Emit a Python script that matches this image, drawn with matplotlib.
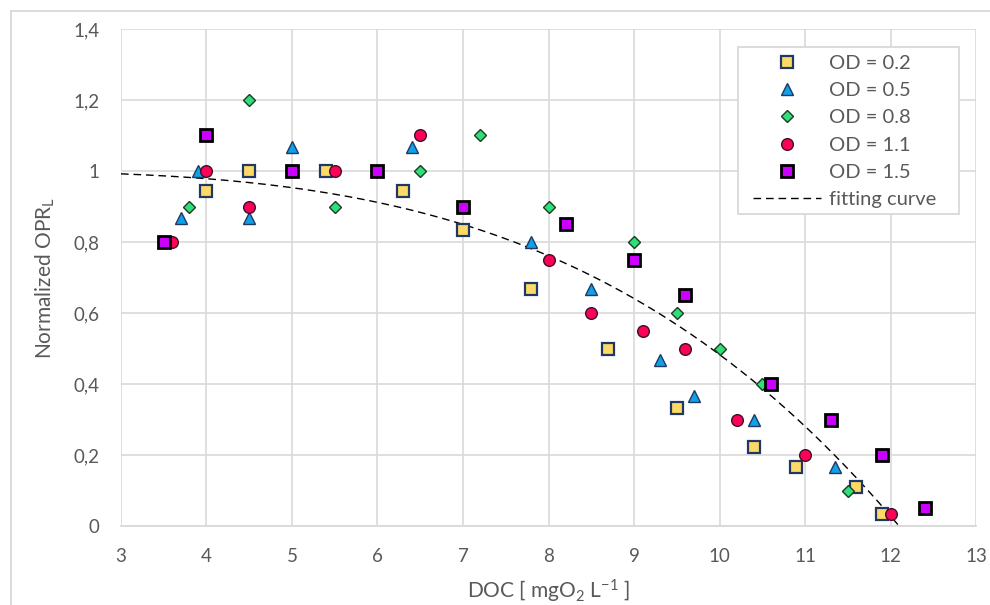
import numpy as np
import matplotlib
matplotlib.use("Agg")
import matplotlib.pyplot as plt
from matplotlib.lines import Line2D
from matplotlib.patches import Rectangle
from matplotlib.ticker import FuncFormatter

plt.rcParams['font.family'] = ['Lato', 'DejaVu Sans']
plt.rcParams['mathtext.fontset'] = 'custom'
plt.rcParams['mathtext.rm'] = 'Lato'
plt.rcParams['mathtext.it'] = 'Lato:italic'
plt.rcParams['mathtext.bf'] = 'Lato:bold'

# --- measured data: DOC [mgO2/L] vs normalized OPR_L ---
doc_od02 = [4.0, 4.5, 5.4, 6.3, 7.0, 7.8, 8.7, 9.5, 10.4, 10.9, 11.6, 11.9]
opr_od02 = [0.944, 1.0, 1.0, 0.944, 0.833, 0.667, 0.5, 0.333, 0.222, 0.167, 0.111, 0.033]

doc_od05 = [3.7, 3.9, 4.5, 5.0, 6.4, 7.8, 8.5, 9.3, 9.7, 10.4, 11.35]
opr_od05 = [0.867, 1.0, 0.867, 1.067, 1.067, 0.8, 0.667, 0.467, 0.367, 0.3, 0.167]

doc_od08 = [3.8, 4.5, 5.5, 6.5, 7.2, 8.0, 9.0, 9.5, 10.0, 10.5, 11.5]
opr_od08 = [0.9, 1.2, 0.9, 1.0, 1.1, 0.9, 0.8, 0.6, 0.5, 0.4, 0.1]

doc_od11 = [3.6, 4.0, 4.5, 5.5, 6.5, 8.0, 8.5, 9.1, 9.6, 10.2, 11.0, 12.0]
opr_od11 = [0.8, 1.0, 0.9, 1.0, 1.1, 0.75, 0.6, 0.55, 0.5, 0.3, 0.2, 0.033]

doc_od15 = [3.5, 4.0, 5.0, 6.0, 7.0, 8.2, 9.0, 9.6, 10.6, 11.3, 11.9, 12.4]
opr_od15 = [0.8, 1.1, 1.0, 1.0, 0.9, 0.85, 0.75, 0.65, 0.4, 0.3, 0.2, 0.05]

series_labels = ['OD = 0.2', 'OD = 0.5', 'OD = 0.8', 'OD = 1.1', 'OD = 1.5']

# fitted model: OPR = 1 - (DOC / DOC_zero) ** FIT_EXP
FIT_DOC_ZERO = 12.1
FIT_EXP = 3.46
fit_range = (3.0, 12.1)

x_ticks = [3, 4, 5, 6, 7, 8, 9, 10, 11, 12, 13]
y_ticks = [0, 0.2, 0.4, 0.6, 0.8, 1.0, 1.2, 1.4]

# --- figure ---
W, H = 990, 605
fig = plt.figure(figsize=(W / 100, H / 100), dpi=100)
ax = fig.add_axes([121 / W, 1 - 526 / H, (976 - 121) / W, (526 - 29) / H])

grid_c = '#d9d9d9'
text_c = '#595959'

styles = [
    dict(marker='s', ms=8.6, mfc='#ffd966', mec='#1f3864', mew=1.6),
    dict(marker='^', ms=8.6, mfc='#0fa0e6', mec='#1f3864', mew=1.0),
    dict(marker='D', ms=6.2, mfc='#2fe07a', mec='#1e3a22', mew=1.0),
    dict(marker='o', ms=8.4, mfc='#ff0059', mec='#3b1028', mew=1.0),
    dict(marker='s', ms=8.6, mfc='#cc00ff', mec='#000000', mew=2.0),
]
xs = [doc_od02, doc_od05, doc_od08, doc_od11, doc_od15]
ys = [opr_od02, opr_od05, opr_od08, opr_od11, opr_od15]

xf = np.linspace(fit_range[0], fit_range[1], 200)
yf = 1 - (xf / FIT_DOC_ZERO) ** FIT_EXP
fit_line, = ax.plot(xf, yf, color='black', lw=1.0, dashes=(5.5, 3.5), zorder=3,
                    label='fitting curve')

handles = []
for x, y, st, lab in zip(xs, ys, styles, series_labels):
    h, = ax.plot(x, y, ls='none', zorder=4, label=lab, **st)
    handles.append(h)
handles.append(fit_line)

ax.set_xlim(3, 13)
ax.set_ylim(0, 1.4)
ax.set_xticks(x_ticks)
ax.set_yticks(y_ticks)

def comma_fmt(v, pos):
    if abs(v - round(v)) < 1e-9:
        return f'{int(round(v))}'
    return f'{v:.1f}'.replace('.', ',')

ax.yaxis.set_major_formatter(FuncFormatter(comma_fmt))
ax.xaxis.set_major_formatter(FuncFormatter(comma_fmt))

ax.grid(True, color=grid_c, lw=1.2, zorder=0)
ax.set_axisbelow(True)
for s in ['top', 'right', 'left']:
    ax.spines[s].set_visible(False)
ax.spines['bottom'].set_color(grid_c)
ax.spines['bottom'].set_linewidth(1.3)
ax.tick_params(axis='both', length=0, labelsize=13.5, labelcolor=text_c)
ax.tick_params(axis='y', pad=15.5)
ax.tick_params(axis='x', pad=16)

ax.set_xlabel(r'DOC [ mgO$_2$ L$^{-1}$ ]', fontsize=15, color=text_c, labelpad=9)
ax.set_ylabel(r'Normalized OPR$_\mathrm{L}$', fontsize=15, color=text_c, labelpad=12)

# legend box drawn separately so its padding is independent of the font size
ax.add_patch(Rectangle((738 / W, 1 - 214 / H), (959 - 738) / W, (214 - 47) / H,
                       transform=fig.transFigure, facecolor='white',
                       edgecolor=grid_c, lw=1.3, zorder=5, clip_on=False))
leg = ax.legend(handles=handles, loc='upper left',
                bbox_to_anchor=(753 / W, 1 - 55 / H), bbox_transform=fig.transFigure,
                fontsize=14.5, frameon=False,
                handlelength=3.38, handletextpad=0.4, labelspacing=0.5,
                borderpad=0, borderaxespad=0, numpoints=1)
leg.set_zorder(6)
for t in leg.get_texts():
    t.set_color(text_c)

# chart area border
x0, y0 = 10.5 / W, 1 - 10.5 / H
fig.add_artist(Line2D([x0, x0], [0, y0], color=grid_c, lw=1.3, transform=fig.transFigure))
fig.add_artist(Line2D([x0, 1], [y0, y0], color=grid_c, lw=1.3, transform=fig.transFigure))

fig.savefig('out.png', dpi=100)
